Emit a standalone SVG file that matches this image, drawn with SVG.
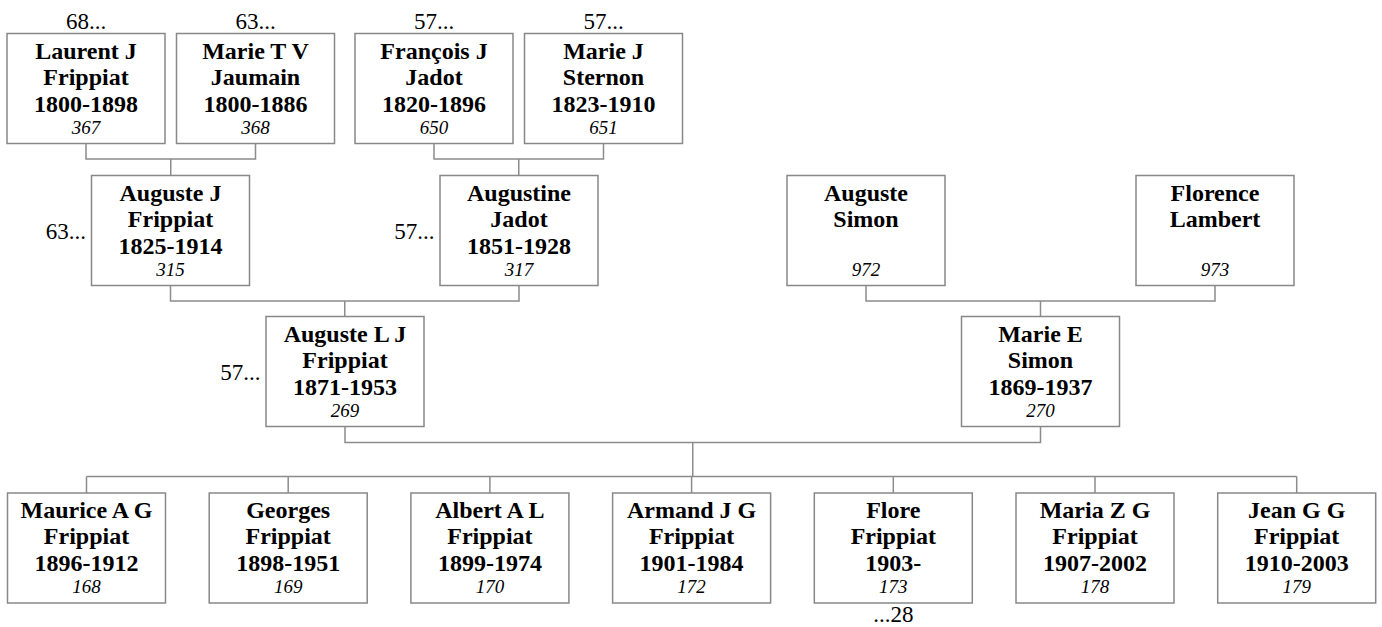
<svg xmlns="http://www.w3.org/2000/svg" width="1382" height="627" viewBox="0 0 1382 627">
<style>
  .box { fill: #ffffff; stroke: #888888; stroke-width: 1.5; }
  .ln { fill: none; stroke: #8c8c8c; stroke-width: 1.5; }
  .nm { font-family: "Liberation Serif", "Times New Roman", serif; font-weight: bold; font-size: 24px; fill: #000; text-anchor: middle; }
  .id { font-family: "Liberation Serif", "Times New Roman", serif; font-style: italic; font-size: 19px; fill: #000; text-anchor: middle; }
  .lb { font-family: "Liberation Serif", "Times New Roman", serif; font-size: 23px; fill: #000; }
</style>
<rect width="1382" height="627" fill="#ffffff"/>
<g id="connectors">
  <polyline class="ln" points="86,143.5 86,159 255.5,159 255.5,143.5"/>
  <line class="ln" x1="170.75" y1="159" x2="170.75" y2="175.5"/>
  <polyline class="ln" points="434,143.5 434,159 603.5,159 603.5,143.5"/>
  <line class="ln" x1="518.75" y1="159" x2="518.75" y2="175.5"/>
  <polyline class="ln" points="170.5,285.5 170.5,301 519,301 519,285.5"/>
  <line class="ln" x1="344.75" y1="301" x2="344.75" y2="316.5"/>
  <polyline class="ln" points="866,285.5 866,301 1215,301 1215,285.5"/>
  <line class="ln" x1="1040.5" y1="301" x2="1040.5" y2="316.5"/>
  <polyline class="ln" points="345,426.5 345,442.5 1040.5,442.5 1040.5,426.5"/>
  <line class="ln" x1="692.75" y1="442.5" x2="692.75" y2="476.5"/>
  <line class="ln" x1="86.5" y1="476.5" x2="1296.7" y2="476.5"/>
  <line class="ln" x1="86.5" y1="476.5" x2="86.5" y2="493"/>
  <line class="ln" x1="288.2" y1="476.5" x2="288.2" y2="493"/>
  <line class="ln" x1="489.9" y1="476.5" x2="489.9" y2="493"/>
  <line class="ln" x1="691.6" y1="476.5" x2="691.6" y2="493"/>
  <line class="ln" x1="893.3" y1="476.5" x2="893.3" y2="493"/>
  <line class="ln" x1="1095" y1="476.5" x2="1095" y2="493"/>
  <line class="ln" x1="1296.7" y1="476.5" x2="1296.7" y2="493"/>
</g>

<g id="n367">
  <rect class="box" x="7" y="33.5" width="158" height="110"/>
  <text class="nm" x="86" y="58.5">Laurent J</text>
  <text class="nm" x="86" y="84.5">Frippiat</text>
  <text class="nm" x="86" y="111.5">1800-1898</text>
  <text class="id" x="86" y="133.5">367</text>
  <text class="lb" x="86" y="29" text-anchor="middle">68...</text>
</g>
<g id="n368">
  <rect class="box" x="176.5" y="33.5" width="158" height="110"/>
  <text class="nm" x="255.5" y="58.5">Marie T V</text>
  <text class="nm" x="255.5" y="84.5">Jaumain</text>
  <text class="nm" x="255.5" y="111.5">1800-1886</text>
  <text class="id" x="255.5" y="133.5">368</text>
  <text class="lb" x="255.5" y="29" text-anchor="middle">63...</text>
</g>
<g id="n650">
  <rect class="box" x="355" y="33.5" width="158" height="110"/>
  <text class="nm" x="434" y="58.5">François J</text>
  <text class="nm" x="434" y="84.5">Jadot</text>
  <text class="nm" x="434" y="111.5">1820-1896</text>
  <text class="id" x="434" y="133.5">650</text>
  <text class="lb" x="434" y="29" text-anchor="middle">57...</text>
</g>
<g id="n651">
  <rect class="box" x="524.5" y="33.5" width="158" height="110"/>
  <text class="nm" x="603.5" y="58.5">Marie J</text>
  <text class="nm" x="603.5" y="84.5">Sternon</text>
  <text class="nm" x="603.5" y="111.5">1823-1910</text>
  <text class="id" x="603.5" y="133.5">651</text>
  <text class="lb" x="603.5" y="29" text-anchor="middle">57...</text>
</g>

<g id="n315">
  <rect class="box" x="91.5" y="175.5" width="158" height="110"/>
  <text class="nm" x="170.5" y="200.5">Auguste J</text>
  <text class="nm" x="170.5" y="226.5">Frippiat</text>
  <text class="nm" x="170.5" y="253.5">1825-1914</text>
  <text class="id" x="170.5" y="275.5">315</text>
  <text class="lb" x="86" y="239" text-anchor="end">63...</text>
</g>
<g id="n317">
  <rect class="box" x="440" y="175.5" width="158" height="110"/>
  <text class="nm" x="519" y="200.5">Augustine</text>
  <text class="nm" x="519" y="226.5">Jadot</text>
  <text class="nm" x="519" y="253.5">1851-1928</text>
  <text class="id" x="519" y="275.5">317</text>
  <text class="lb" x="434.5" y="239" text-anchor="end">57...</text>
</g>
<g id="n972">
  <rect class="box" x="787" y="175.5" width="158" height="110"/>
  <text class="nm" x="866" y="200.5">Auguste</text>
  <text class="nm" x="866" y="226.5">Simon</text>
  <text class="id" x="866" y="275.5">972</text>
</g>
<g id="n973">
  <rect class="box" x="1136" y="175.5" width="158" height="110"/>
  <text class="nm" x="1215" y="200.5">Florence</text>
  <text class="nm" x="1215" y="226.5">Lambert</text>
  <text class="id" x="1215" y="275.5">973</text>
</g>

<g id="n269">
  <rect class="box" x="266" y="316.5" width="158" height="110"/>
  <text class="nm" x="345" y="341.5">Auguste L J</text>
  <text class="nm" x="345" y="367.5">Frippiat</text>
  <text class="nm" x="345" y="394.5">1871-1953</text>
  <text class="id" x="345" y="416.5">269</text>
  <text class="lb" x="260.5" y="380" text-anchor="end">57...</text>
</g>
<g id="n270">
  <rect class="box" x="961.5" y="316.5" width="158" height="110"/>
  <text class="nm" x="1040.5" y="341.5">Marie E</text>
  <text class="nm" x="1040.5" y="367.5">Simon</text>
  <text class="nm" x="1040.5" y="394.5">1869-1937</text>
  <text class="id" x="1040.5" y="416.5">270</text>
</g>

<g id="n168">
  <rect class="box" x="7.5" y="493" width="158" height="110"/>
  <text class="nm" x="86.5" y="518">Maurice A G</text>
  <text class="nm" x="86.5" y="544">Frippiat</text>
  <text class="nm" x="86.5" y="571">1896-1912</text>
  <text class="id" x="86.5" y="593">168</text>
</g>
<g id="n169">
  <rect class="box" x="209.2" y="493" width="158" height="110"/>
  <text class="nm" x="288.2" y="518">Georges</text>
  <text class="nm" x="288.2" y="544">Frippiat</text>
  <text class="nm" x="288.2" y="571">1898-1951</text>
  <text class="id" x="288.2" y="593">169</text>
</g>
<g id="n170">
  <rect class="box" x="410.9" y="493" width="158" height="110"/>
  <text class="nm" x="489.9" y="518">Albert A L</text>
  <text class="nm" x="489.9" y="544">Frippiat</text>
  <text class="nm" x="489.9" y="571">1899-1974</text>
  <text class="id" x="489.9" y="593">170</text>
</g>
<g id="n172">
  <rect class="box" x="612.6" y="493" width="158" height="110"/>
  <text class="nm" x="691.6" y="518">Armand J G</text>
  <text class="nm" x="691.6" y="544">Frippiat</text>
  <text class="nm" x="691.6" y="571">1901-1984</text>
  <text class="id" x="691.6" y="593">172</text>
</g>
<g id="n173">
  <rect class="box" x="814.3" y="493" width="158" height="110"/>
  <text class="nm" x="893.3" y="518">Flore</text>
  <text class="nm" x="893.3" y="544">Frippiat</text>
  <text class="nm" x="893.3" y="571">1903-</text>
  <text class="id" x="893.3" y="593">173</text>
  <text class="lb" x="893.3" y="622" text-anchor="middle">...28</text>
</g>
<g id="n178">
  <rect class="box" x="1016" y="493" width="158" height="110"/>
  <text class="nm" x="1095" y="518">Maria Z G</text>
  <text class="nm" x="1095" y="544">Frippiat</text>
  <text class="nm" x="1095" y="571">1907-2002</text>
  <text class="id" x="1095" y="593">178</text>
</g>
<g id="n179">
  <rect class="box" x="1217.7" y="493" width="158" height="110"/>
  <text class="nm" x="1296.7" y="518">Jean G G</text>
  <text class="nm" x="1296.7" y="544">Frippiat</text>
  <text class="nm" x="1296.7" y="571">1910-2003</text>
  <text class="id" x="1296.7" y="593">179</text>
</g>
</svg>
